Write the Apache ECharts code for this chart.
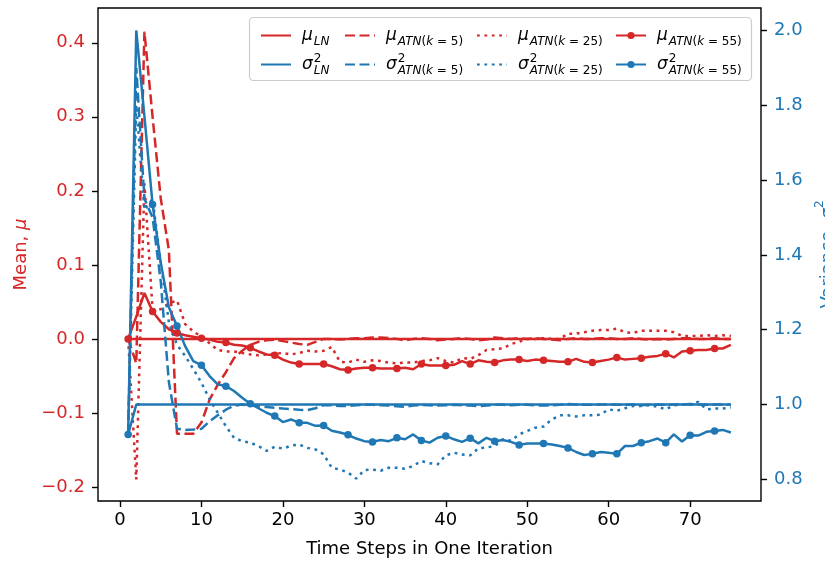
<!DOCTYPE html>
<html>
<head>
<meta charset="utf-8">
<script src="https://cdn.jsdelivr.net/npm/echarts@6/dist/echarts.min.js"></script>
<style>html,body{margin:0;padding:0;background:#fff}#c{width:825px;height:563px}</style>
</head>
<body>
<div id="c"></div>
<script>
// ---- data ----
const steps = Array.from({length: 75}, (_, i) => i + 1);
const xTicks = [0, 10, 20, 30, 40, 50, 60, 70];
const meanTicks = [-0.2, -0.1, 0.0, 0.1, 0.2, 0.3, 0.4];
const varTicks = [0.8, 1.0, 1.2, 1.4, 1.6, 1.8, 2.0];

const muLN = [0,0,0,0,0,0,0,0,0,0, 0,0,0,0,0,0,0,0,0,0, 0,0,0,0,0,0,0,0,0,0,
  0,0,0,0,0,0,0,0,0,0, 0,0,0,0,0,0,0,0,0,0, 0,0,0,0,0,0,0,0,0,0, 0,0,0,0,0,0,0,0,0,0, 0,0,0,0,0];
const muATN5 = [0, -0.033, 0.415, 0.30, 0.19, 0.12, -0.128, -0.128, -0.128, -0.113,
  -0.082, -0.062, -0.045, -0.026, -0.016, -0.008, -0.004, -0.002, -0.001, -0.003,
  -0.005, -0.007, -0.008, -0.004, 0.000, 0.000, -0.001, 0.000, 0.001, 0.001,
  0.002, 0.002, 0.001, 0.000, -0.002, 0.000, 0.001, 0.000, -0.002, -0.001,
  0.000, 0.001, 0.000, -0.002, -0.001, 0.002, 0.001, 0.000, 0.001, 0.000,
  0.001, 0.000, -0.001, -0.002, 0.000, 0.001, 0.000, 0.000, 0.001, 0.001,
  0.000, 0.000, 0.001, 0.000, -0.001, 0.000, -0.001, 0.000, 0.001, 0.001,
  0.000, 0.000, 0.001, 0.000, 0.000];
const muATN25 = [0, -0.19, 0.21, 0.04, 0.04, 0.048, 0.052, 0.02, 0.01, 0.003,
  -0.006, -0.015, -0.017, -0.017, -0.019, -0.021, -0.022, -0.021, -0.020, -0.019,
  -0.021, -0.019, -0.016, -0.017, -0.016, -0.011, -0.031, -0.032, -0.028, -0.031,
  -0.029, -0.030, -0.032, -0.033, -0.032, -0.032, -0.030, -0.029, -0.026, -0.030,
  -0.032, -0.026, -0.027, -0.022, -0.015, -0.014, -0.013, -0.007, -0.004, 0.000,
  0.000, 0.001, 0.000, 0.000, 0.007, 0.007, 0.009, 0.011, 0.012, 0.012,
  0.014, 0.009, 0.008, 0.011, 0.011, 0.011, 0.011, 0.009, 0.004, 0.004,
  0.004, 0.005, 0.004, 0.005, 0.004];
const muATN55 = [0, 0.030, 0.062, 0.037, 0.023, 0.013, 0.008, 0.005, 0.003, 0.001,
  -0.001, -0.004, -0.005, -0.008, -0.009, -0.012, -0.017, -0.021, -0.022, -0.028,
  -0.032, -0.034, -0.034, -0.034, -0.034, -0.037, -0.041, -0.042, -0.040, -0.039,
  -0.039, -0.040, -0.040, -0.040, -0.039, -0.041, -0.034, -0.036, -0.036, -0.036,
  -0.035, -0.030, -0.034, -0.029, -0.031, -0.032, -0.029, -0.028, -0.028, -0.030,
  -0.028, -0.029, -0.030, -0.031, -0.031, -0.027, -0.031, -0.032, -0.030, -0.028,
  -0.025, -0.028, -0.027, -0.026, -0.024, -0.023, -0.020, -0.025, -0.017, -0.016,
  -0.015, -0.015, -0.013, -0.013, -0.008];

const varLN = [0.92, 1,1,1,1,1,1,1,1,1, 1,1,1,1,1,1,1,1,1,1, 1,1,1,1,1,1,1,1,1,1,
  1,1,1,1,1,1,1,1,1,1, 1,1,1,1,1,1,1,1,1,1, 1,1,1,1,1,1,1,1,1,1, 1,1,1,1,1,1,1,1,1,1, 1,1,1,1,1];
const varATN5 = [0.92, 1.90, 1.55, 1.50, 1.33, 1.06, 0.935, 0.932, 0.933, 0.935,
  0.955, 0.971, 0.986, 0.997, 1.000, 0.997, 0.995, 0.993, 0.991, 0.989,
  0.988, 0.986, 0.985, 0.990, 0.998, 0.998, 0.996, 0.996, 0.998, 0.999,
  0.999, 0.998, 0.997, 0.995, 0.994, 0.997, 0.999, 0.998, 0.997, 0.998,
  0.999, 0.998, 0.997, 0.996, 0.997, 0.999, 0.999, 0.998, 0.999, 0.999,
  0.998, 0.997, 0.998, 0.999, 1.001, 1.000, 0.999, 0.999, 1.000, 1.000,
  0.999, 0.999, 1.000, 0.998, 0.999, 1.000, 0.999, 1.000, 1.000, 1.001,
  1.000, 0.999, 1.000, 1.000, 0.999];
const varATN25 = [0.92, 1.80, 1.52, 1.55, 1.38, 1.22, 1.16, 1.13, 1.095, 1.058,
  1.014, 0.978, 0.942, 0.911, 0.902, 0.898, 0.889, 0.876, 0.887, 0.882,
  0.890, 0.893, 0.884, 0.880, 0.867, 0.831, 0.826, 0.818, 0.802, 0.825,
  0.826, 0.823, 0.831, 0.831, 0.828, 0.836, 0.849, 0.843, 0.840, 0.864,
  0.871, 0.866, 0.864, 0.883, 0.885, 0.889, 0.907, 0.903, 0.920, 0.929,
  0.938, 0.941, 0.960, 0.971, 0.971, 0.968, 0.971, 0.971, 0.973, 0.987,
  0.983, 0.990, 0.996, 0.996, 0.998, 0.994, 0.987, 0.998, 1.000, 1.000,
  1.007, 0.987, 0.989, 0.989, 0.992];
const varATN55 = [0.92, 2.0, 1.77, 1.535, 1.38, 1.26, 1.21, 1.156, 1.116, 1.105,
  1.076, 1.054, 1.049, 1.036, 1.018, 1.002, 0.990, 0.978, 0.969, 0.953,
  0.960, 0.951, 0.951, 0.943, 0.944, 0.930, 0.925, 0.919, 0.909, 0.902,
  0.900, 0.905, 0.902, 0.911, 0.907, 0.920, 0.904, 0.898, 0.911, 0.916,
  0.907, 0.900, 0.910, 0.896, 0.911, 0.902, 0.905, 0.900, 0.892, 0.896,
  0.896, 0.896, 0.893, 0.889, 0.884, 0.873, 0.865, 0.868, 0.873, 0.871,
  0.868, 0.889, 0.889, 0.898, 0.902, 0.909, 0.898, 0.920, 0.901, 0.918,
  0.917, 0.927, 0.929, 0.932, 0.925];

// ---- style ----
const RED = '#d62728', BLUE = '#1f77b4';
const FONT = 'DejaVu Sans';
const DASH = [10, 4.5], DOT = [2.8, 4.6];
const LW = 2.5;

const labels = {
  muLN: '{m|μ}{si|LN}',
  mu5: '{m|μ}{si|ATN}{s|(}{si|k}{s| = 5)}',
  mu25: '{m|μ}{si|ATN}{s|(}{si|k}{s| = 25)}',
  mu55: '{m|μ}{si|ATN}{s|(}{si|k}{s| = 55)}',
  varLN: '{m|σ}{p|2}{si|LN}',
  var5: '{m|σ}{p|2}{si|ATN}{s|(}{si|k}{s| = 5)}',
  var25: '{m|σ}{p|2}{si|ATN}{s|(}{si|k}{s| = 25)}',
  var55: '{m|σ}{p|2}{si|ATN}{s|(}{si|k}{s| = 55)}'
};
const rich = {
  m: {fontFamily: FONT, fontSize: 17, fontStyle: 'italic', color: '#000', lineHeight: 24, verticalAlign: 'middle', padding: [0, 1, 0, 6]},
  si: {fontFamily: FONT, fontSize: 12, fontStyle: 'italic', color: '#000', lineHeight: 13, verticalAlign: 'bottom', padding: [0, 0, 0, 0]},
  s: {fontFamily: FONT, fontSize: 12, color: '#000', lineHeight: 13, verticalAlign: 'bottom', padding: [0, 0, 0, 0]},
  p: {fontFamily: FONT, fontSize: 12, color: '#000', lineHeight: 13, verticalAlign: 'top', padding: [0, 0, 0, 0], width: 0.01}
};

function pts(arr) { return steps.map((x, i) => [x, arr[i]]); }
function markedPts(arr) {
  return steps.map((x, i) => ({value: [x, arr[i]], symbol: (i % 3 === 0) ? 'circle' : 'none'}));
}
function line(name, arr, yIdx, color, type, marked) {
  return {
    name: name, type: 'line', yAxisIndex: yIdx,
    data: marked ? markedPts(arr) : pts(arr),
    symbol: marked ? 'circle' : 'none', symbolSize: 7.5, showSymbol: !!marked, showAllSymbol: true,
    lineStyle: {color: color, width: LW, type: type, cap: 'butt'},
    itemStyle: {color: color},
    emphasis: {disabled: true}, z: 2
  };
}

const marked = {mu55: true, var55: true};
const cols = [['muLN', 'varLN', 255], ['mu5', 'var5', 339], ['mu25', 'var25', 471], ['mu55', 'var55', 610]];
const legends = cols.map(c => ({
  orient: 'vertical', left: c[2], top: 22, itemGap: 5, itemWidth: 30, itemHeight: 9,
  data: [c[0], c[1]].map(n => ({name: n, itemStyle: {opacity: marked[n] ? 1 : 0}})),
  formatter: n => labels[n],
  textStyle: {fontFamily: FONT, fontSize: 17, rich: rich},
  selectedMode: false, z: 5
}));

const chart = echarts.init(document.getElementById('c'), null, {renderer: 'canvas'});
chart.setOption({
  animation: false,
  backgroundColor: '#fff',
  textStyle: {fontFamily: FONT},
  grid: {left: 98, right: 64, top: 8, bottom: 62, containLabel: false, outerBoundsMode: 'none',
    show: true, borderColor: '#000', borderWidth: 1.4, backgroundColor: 'transparent'},
  legend: legends,
  graphic: [{
    type: 'rect', z: 4, silent: true,
    shape: {x: 249.5, y: 17.5, width: 502, height: 63, r: 4},
    style: {fill: 'rgba(255,255,255,0.8)', stroke: '#cccccc', lineWidth: 1.2}
  }],
  xAxis: {
    type: 'value', min: -2.7, max: 78.7,
    axisLine: {show: false, onZero: false}, splitLine: {show: false},
    axisTick: {show: true, length: 6, lineStyle: {color: '#000', width: 1.4}, customValues: xTicks},
    axisLabel: {customValues: xTicks, margin: 10, fontFamily: FONT, fontSize: 18, color: '#000'},
    name: 'Time Steps in One Iteration', nameLocation: 'middle', nameGap: 39,
    nameTextStyle: {color: '#000', fontFamily: FONT, fontSize: 18}
  },
  yAxis: [{
    type: 'value', position: 'left', min: -0.219, max: 0.447,
    axisLine: {show: false, onZero: false}, splitLine: {show: false},
    axisTick: {show: true, length: 6, lineStyle: {color: '#000', width: 1.4}, customValues: meanTicks},
    axisLabel: {customValues: meanTicks, margin: 13, fontFamily: FONT, fontSize: 18, color: RED,
      formatter: v => v.toFixed(1).replace('-', '\u2212')},
    name: '{a|Mean, }{b|μ}', nameLocation: 'middle', nameGap: 68, nameRotate: 90,
    nameTextStyle: {color: RED, fontFamily: FONT, fontSize: 18,
      rich: {a: {color: RED, fontFamily: FONT, fontSize: 18}, b: {color: RED, fontFamily: FONT, fontSize: 18, fontStyle: 'italic'}}}
  }, {
    type: 'value', position: 'right', min: 0.742, max: 2.06,
    axisLine: {show: false, onZero: false}, splitLine: {show: false},
    axisTick: {show: true, length: 6, lineStyle: {color: '#000', width: 1.4}, customValues: varTicks},
    axisLabel: {customValues: varTicks, margin: 13, fontFamily: FONT, fontSize: 18, color: BLUE,
      formatter: v => v.toFixed(1)},
    name: '{a|Variance, }{b|σ}{c|2}', nameLocation: 'middle', nameGap: 50, nameRotate: 90,
    nameTextStyle: {color: BLUE, fontFamily: FONT, fontSize: 18,
      rich: {a: {color: BLUE, fontFamily: FONT, fontSize: 18, verticalAlign: 'bottom', lineHeight: 24},
             b: {color: BLUE, fontFamily: FONT, fontSize: 18, fontStyle: 'italic', verticalAlign: 'bottom', lineHeight: 24},
             c: {color: BLUE, fontFamily: FONT, fontSize: 12, verticalAlign: 'top', lineHeight: 14}}}
  }],
  series: [
    line('muLN', muLN, 0, RED, 'solid', false),
    line('mu5', muATN5, 0, RED, DASH, false),
    line('mu25', muATN25, 0, RED, DOT, false),
    line('mu55', muATN55, 0, RED, 'solid', true),
    line('varLN', varLN, 1, BLUE, 'solid', false),
    line('var5', varATN5, 1, BLUE, DASH, false),
    line('var25', varATN25, 1, BLUE, DOT, false),
    line('var55', varATN55, 1, BLUE, 'solid', true)
  ]
});
</script>
</body>
</html>
